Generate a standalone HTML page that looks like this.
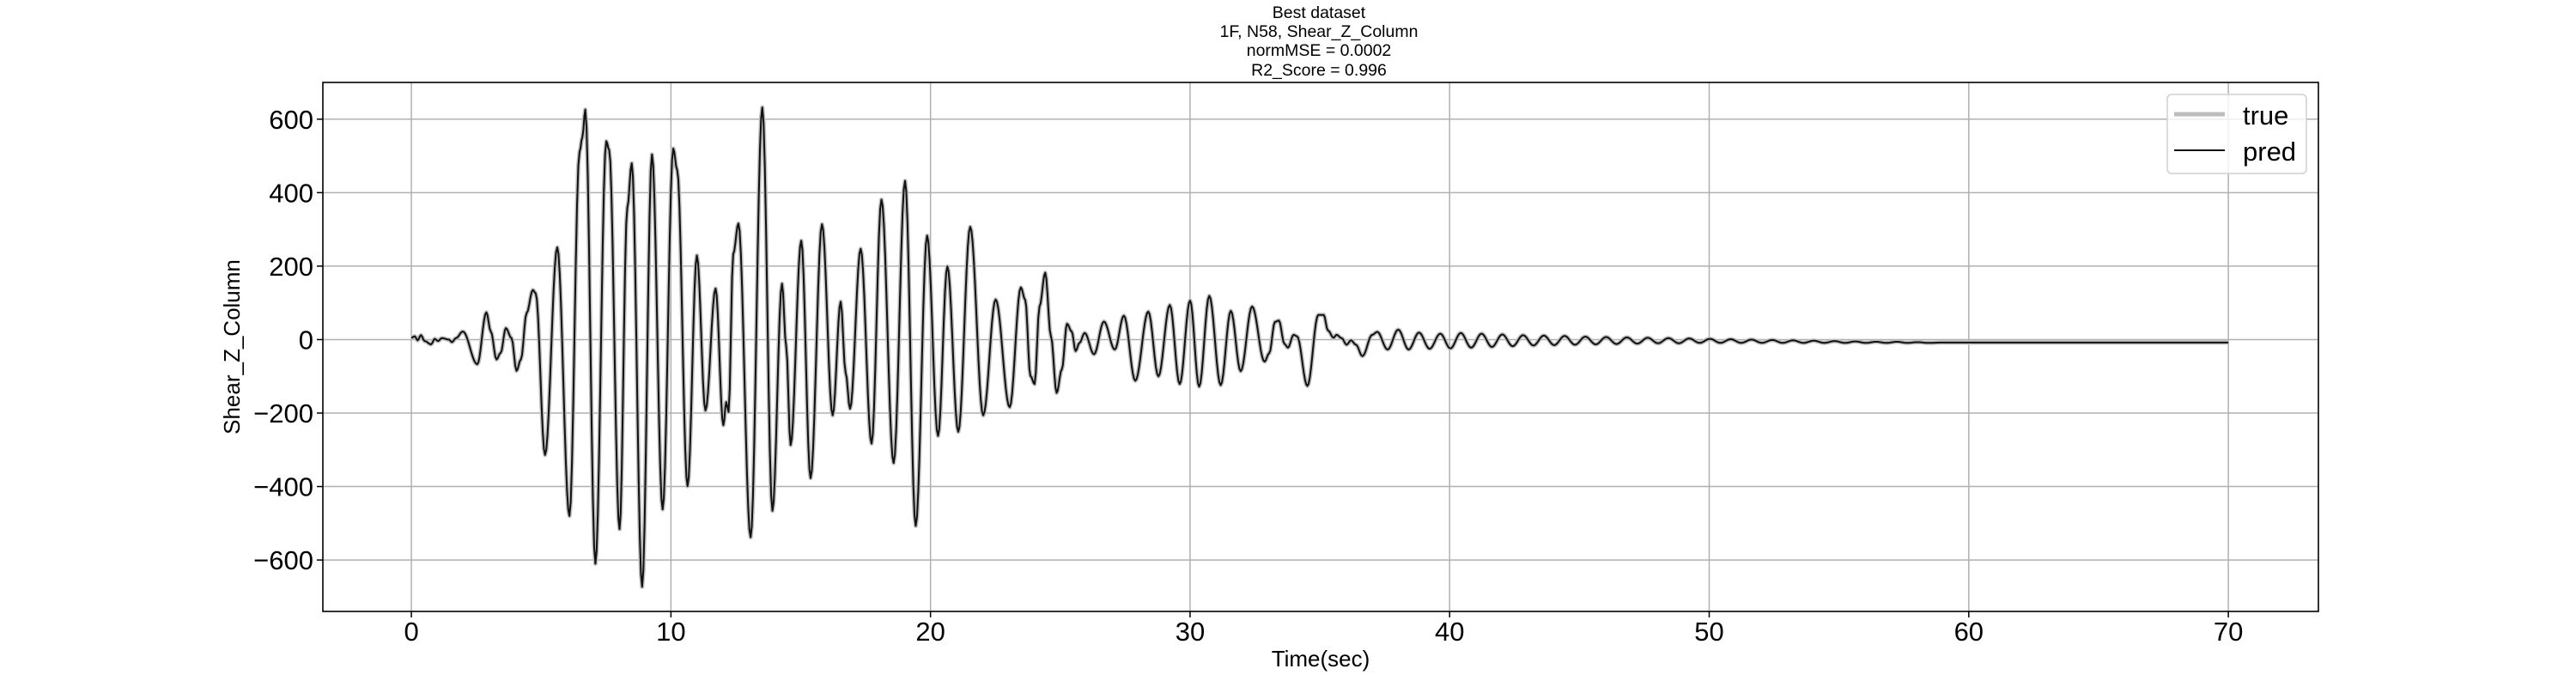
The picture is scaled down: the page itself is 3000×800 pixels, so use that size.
<!DOCTYPE html>
<html><head><meta charset="utf-8"><style>
html,body{margin:0;padding:0;background:#fff;}
svg{display:block;font-family:"Liberation Sans","DejaVu Sans",sans-serif;}
</style></head><body>
<svg id="chart" width="3000" height="800" viewBox="0 0 3000 800" xmlns="http://www.w3.org/2000/svg">
<g font-size="19.5" text-anchor="middle" fill="#000">
<text x="1536" y="21">Best dataset</text>
<text x="1536" y="43">1F, N58, Shear_Z_Column</text>
<text x="1536" y="65">normMSE = 0.0002</text>
<text x="1536" y="88">R2_Score = 0.996</text>
</g>
<g id="grid"></g>
<g id="series"></g>
<rect x="376" y="96" width="2324" height="616" fill="none" stroke="#000" stroke-width="1.6"/>
<g id="ticks"></g>
<text x="1538" y="776" font-size="26" text-anchor="middle">Time(sec)</text>
<text x="0" y="0" font-size="26" text-anchor="middle" transform="translate(279,404) rotate(-90)">Shear_Z_Column</text>
<g>
<rect x="2524" y="110" width="162" height="92" rx="5" fill="#fff" fill-opacity="0.8" stroke="#d0d0d0" stroke-width="1.5"/>
<line x1="2532" y1="133" x2="2591" y2="133" stroke="#bdbdbd" stroke-width="5"/>
<text x="2612" y="145" font-size="31">true</text>
<line x1="2532" y1="175" x2="2591" y2="175" stroke="#111" stroke-width="2"/>
<text x="2612" y="187" font-size="31">pred</text>
</g>
</svg>
<script>
const xTicks = [0,10,20,30,40,50,60,70];
const yTicks = [-600,-400,-200,0,200,400,600];
const yTickLabels = ["\u2212600","\u2212400","\u2212200","0","200","400","600"];
const times = [0,0.13,0.24,0.37,0.51,0.76,0.9,1.03,1.17,1.45,1.56,1.72,1.98,2.54,2.89,3.06,3.28,3.44,3.64,3.86,4.05,4.22,4.44,4.68,4.79,5.15,5.62,6.09,6.48,6.59,6.70,7.09,7.51,7.62,8.02,8.32,8.49,8.89,9.27,9.68,10.09,10.24,10.64,11.0,11.33,11.72,12.02,12.13,12.22,12.40,12.60,13.07,13.52,13.91,14.28,14.44,14.61,15.02,15.38,15.82,16.23,16.54,16.73,16.9,17.31,17.73,18.11,18.58,19.02,19.43,19.87,20.29,20.65,21.07,21.53,22.03,22.51,23.05,23.48,23.65,23.85,24.01,24.2,24.42,24.64,24.86,25.06,25.26,25.44,25.59,25.74,25.94,26.30,26.68,27.1,27.45,27.89,28.39,28.78,29.22,29.6,30.0,30.35,30.74,31.18,31.57,31.95,32.39,32.87,33.05,33.27,33.42,33.64,33.77,33.99,34.12,34.52,34.94,35.15,35.31,35.53,35.64,35.84,36.03,36.2,36.39,36.64,37.02,37.21,37.61,38.02,38.42,38.82,39.23,39.64,40.03,40.43,40.83,41.23,41.63,42.03,42.43,42.83,43.23,43.63,44.03,44.43,44.83,45.23,45.63,46.03,46.43,46.83,47.23,47.63,48.03,48.43,48.83,49.23,49.63,50.03,50.43,50.83,51.23,51.63,52.03,52.43,52.83,53.23,53.63,54.03,54.43,54.83,55.23,55.63,56.03,56.43,56.83,57.23,57.63,58.03,58.43,59.0,62,66,70];
const predValues = [5,9,-2,12,-4,-13,2,-4,4,0,-7,4,22,-67,74,22,-54,-36,31,4,-85,-54,72,135,126,-314,251,-480,511,552,626,-610,540,516,-516,359,480,-673,504,-462,520,462,-399,229,-193,139,-233,-170,-197,233,316,-538,632,-466,152,-18,-287,269,-377,314,-206,103,-90,-188,247,-283,381,-336,432,-507,283,-262,199,-251,307,-206,109,-184,142,108,-99,-121,90,182,9,-145,-81,43,22,-31,-9,18,-40,49,-27,65,-112,76,-100,94,-121,106,-128,119,-124,78,-86,90,-60,-37,48,52,-12,-22,13,9,-126,67,67,25,5,13,4,-14,-2,-14,-45,13,21,-27,27,-27,19,-25,16,-24,18,-22,16,-20,14,-18,12,-16,11,-15,10,-14,8,-13,7,-12,6,-11,5,-10,4,-10,3,-9,2,-9,1,-9,0,-9,-1,-9,-2,-9,-3,-9,-4,-9,-5,-9,-6,-9,-6,-9,-7,-9,-8,-8,-8,-8];
const trueValues = predValues.slice();

const X0=376, X1=2700, Y0=96, Y1=712, XMIN=-3.41, XMAX=73.47, YMIN=-740, YMAX=700;
function xs(t){return X0+(t-XMIN)/(XMAX-XMIN)*(X1-X0);}
function ys(v){return Y1-(v-YMIN)/(YMAX-YMIN)*(Y1-Y0);}
const NS="http://www.w3.org/2000/svg";
const grid=document.getElementById('grid'), ticks=document.getElementById('ticks'), series=document.getElementById('series');
function mk(tag,attrs,parent){const e=document.createElementNS(NS,tag);for(const k in attrs)e.setAttribute(k,attrs[k]);parent.appendChild(e);return e;}
xTicks.forEach(t=>{
  const g=mk('line',{x1:xs(t),x2:xs(t),y1:Y0,y2:Y1,stroke:'#b0b0b0','stroke-width':1.5},grid);
  
  
  const tk=mk('line',{x1:xs(t),x2:xs(t),y1:Y1,y2:Y1+7,stroke:'#000','stroke-width':1.5},ticks);
  
  
  const tx=mk('text',{x:xs(t),y:746,'font-size':31,'text-anchor':'middle'},ticks);
  tx.textContent=String(t);
  
  
});
yTicks.forEach((v,i)=>{
  const g=mk('line',{x1:X0,x2:X1,y1:ys(v),y2:ys(v),stroke:'#b0b0b0','stroke-width':1.5},grid);
  
  
  const tk=mk('line',{x1:X0-7,x2:X0,y1:ys(v),y2:ys(v),stroke:'#000','stroke-width':1.5},ticks);
  
  
  const tx=mk('text',{x:365,y:ys(v)+11,'font-size':31,'text-anchor':'end'},ticks);
  tx.textContent=yTickLabels[i];
  
  
});
function pathFor(vals){
  let d='M'+xs(times[0]).toFixed(2)+','+ys(vals[0]).toFixed(2);
  for(let i=1;i<times.length;i++){
    const t0=times[i-1],t1=times[i],v0=vals[i-1],v1=vals[i];
    const n=Math.max(2,Math.ceil((xs(t1)-xs(t0))/1.5));
    for(let k=1;k<=n;k++){
      const f=k/n, m=(1-Math.cos(Math.PI*f))/2;
      d+='L'+xs(t0+(t1-t0)*f).toFixed(2)+','+ys(v0+(v1-v0)*m).toFixed(2);
    }
  }
  return d;
}
const tl=mk('path',{d:pathFor(trueValues),fill:'none',stroke:'#bdbdbd','stroke-width':5,'stroke-linejoin':'round'},series);


const pl=mk('path',{d:pathFor(predValues),fill:'none',stroke:'#111','stroke-width':2,'stroke-linejoin':'round'},series);


</script>
</body></html>
